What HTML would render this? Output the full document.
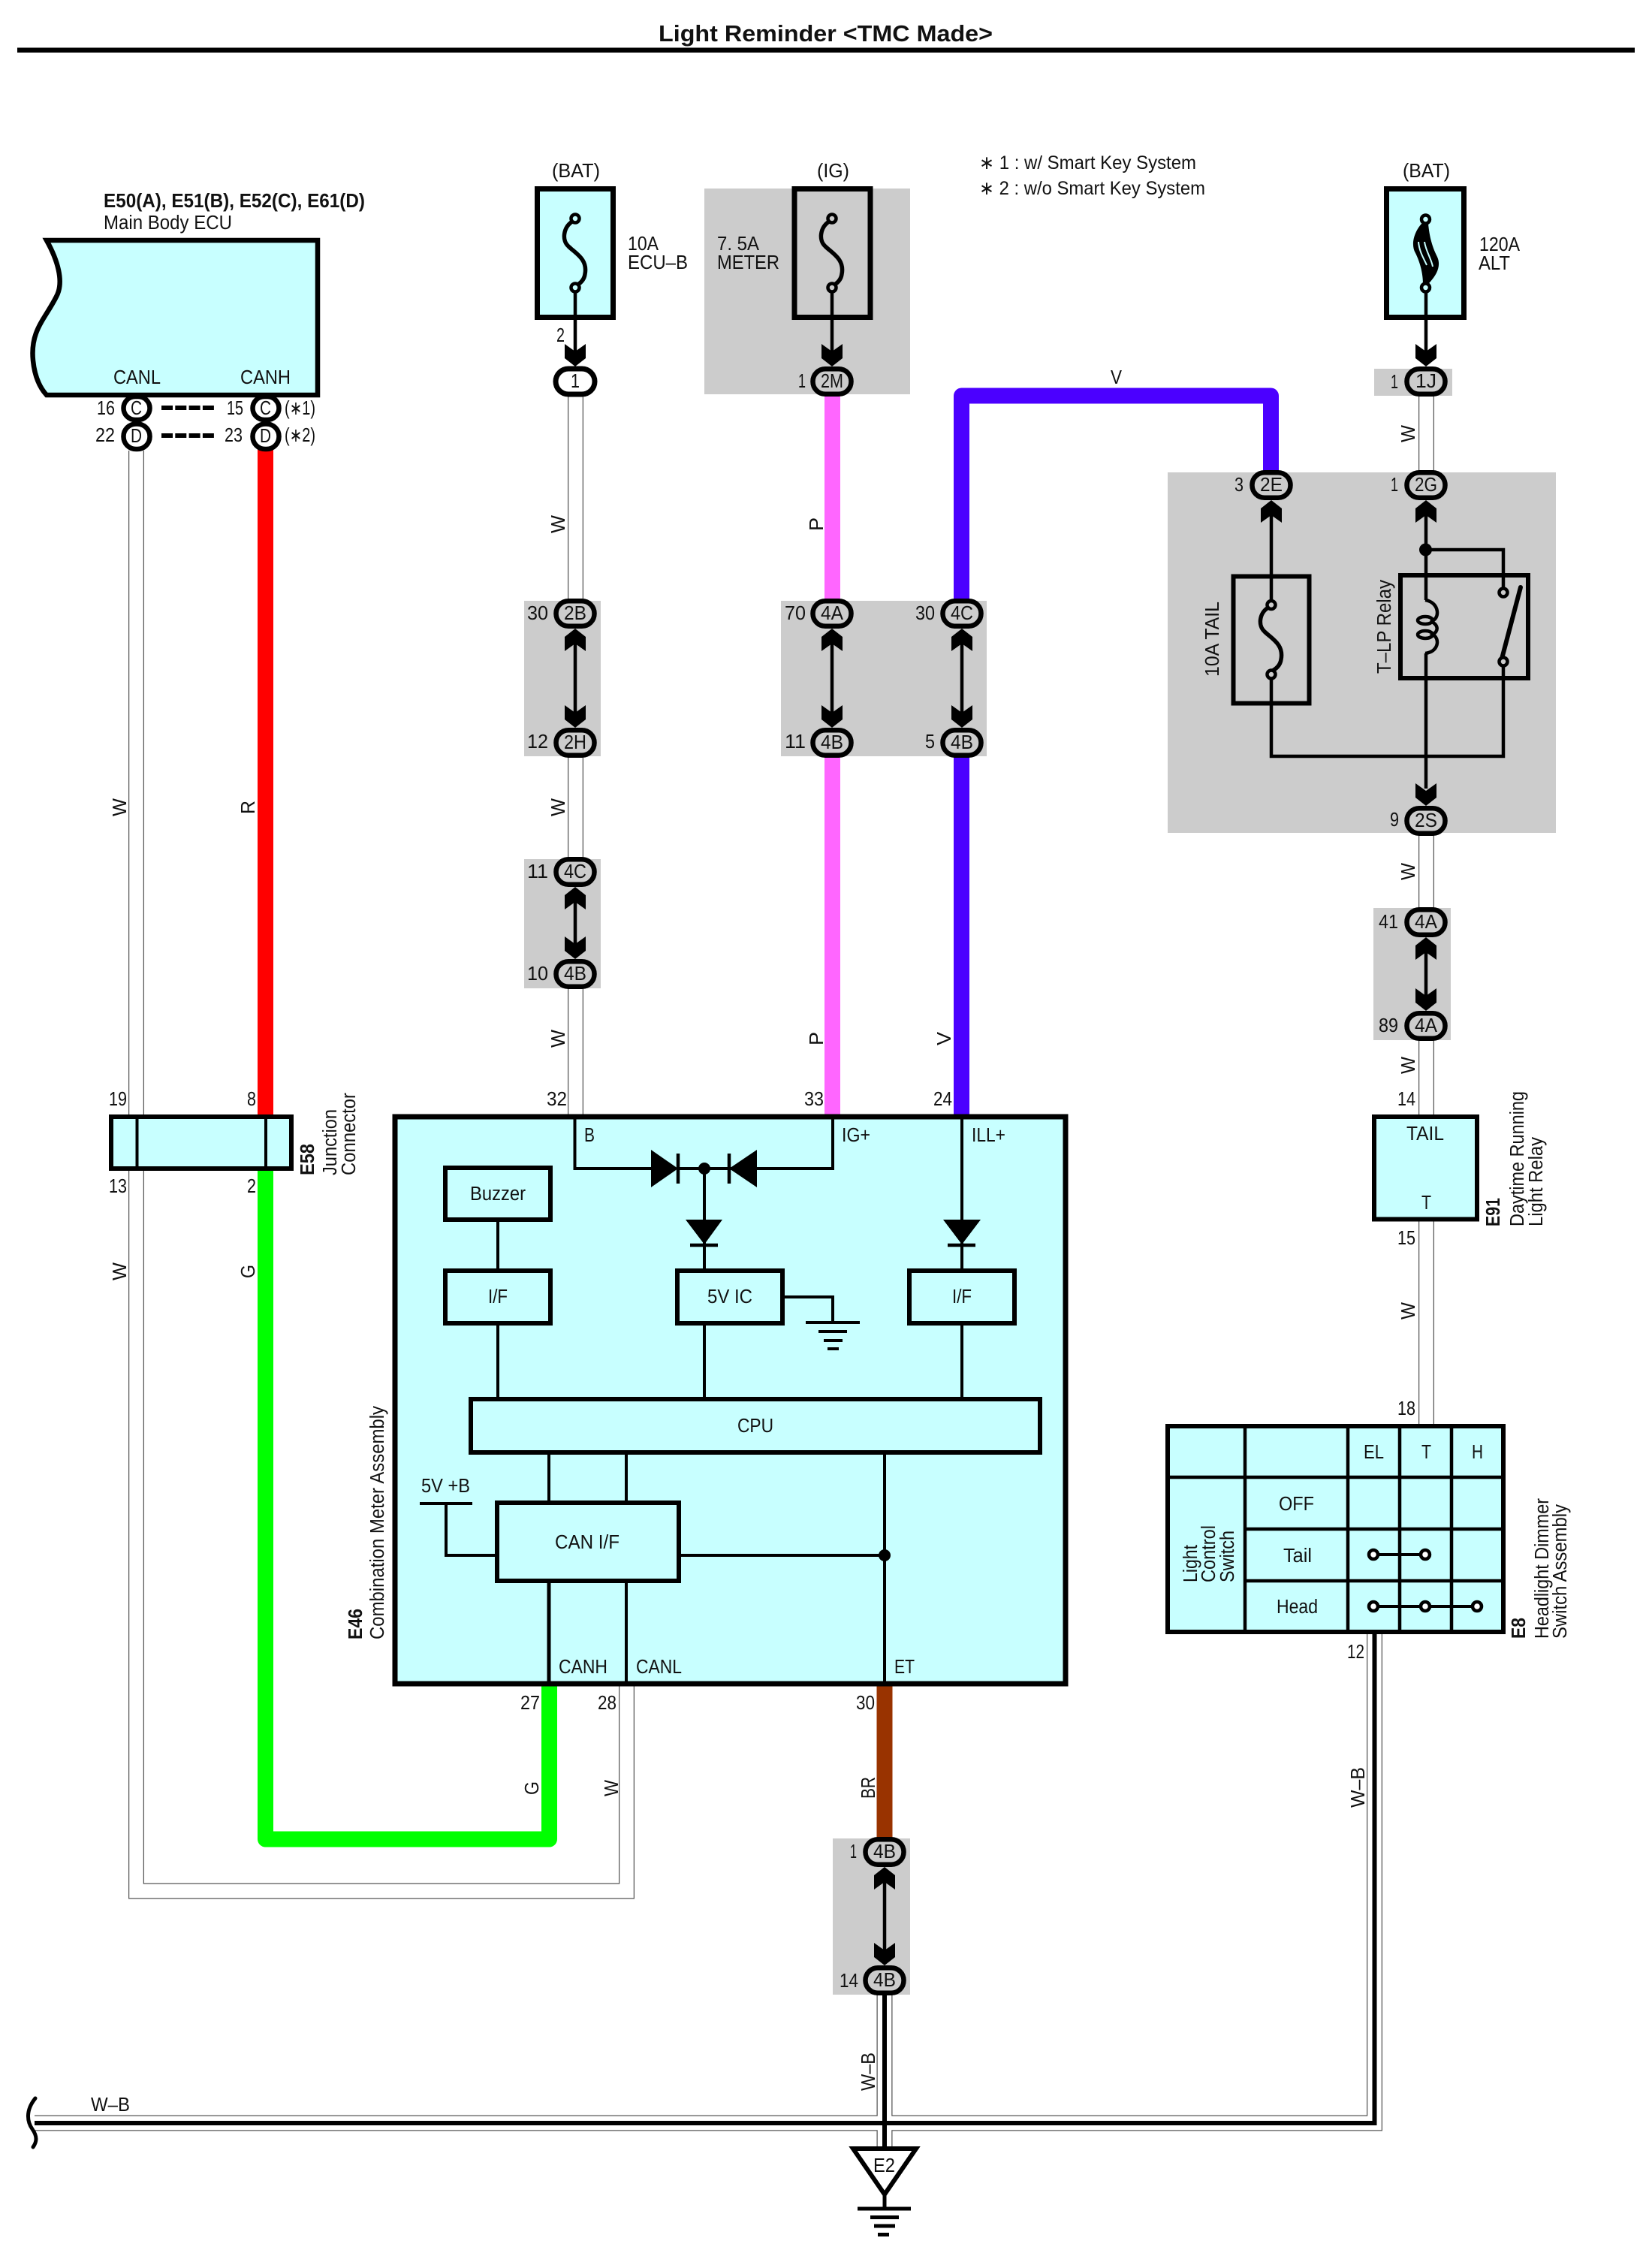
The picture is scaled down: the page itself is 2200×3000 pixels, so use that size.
<!DOCTYPE html>
<html><head><meta charset="utf-8"><title>Light Reminder</title>
<style>
html,body{margin:0;padding:0;background:#fff}
svg{display:block}
text{font-family:"Liberation Sans",sans-serif;font-size:25.5px;fill:#111}
.b{font-weight:bold}
.s{font-size:25px}
</style></head><body>
<svg xmlns="http://www.w3.org/2000/svg" width="2200" height="3000" viewBox="0 0 2200 3000">
<defs>
<rect id="pw" x="-26" y="-17" width="52" height="34" rx="17" fill="#fff" stroke="#000" stroke-width="7"/>
<rect id="pg" x="-25.5" y="-16.75" width="51" height="33.5" rx="16.5" fill="#ccc" stroke="#000" stroke-width="6.5"/>
<polygon id="cd" points="-14,-30 0,-20 14,-30 14,-11 0,0 -14,-11" fill="#000"/>
<polygon id="cu" points="-14,30 0,20 14,30 14,11 0,0 -14,11" fill="#000"/>
</defs>
<rect width="2200" height="3000" fill="#fff"/>

<!-- Grey regions -->
<g fill="#ccc">
<rect x="938" y="251" width="274" height="274"/>
<rect x="698" y="800" width="102" height="207"/>
<rect x="698" y="1144" width="102" height="172"/>
<rect x="1040" y="800" width="274" height="207"/>
<rect x="1830" y="491" width="104" height="36"/>
<rect x="1555" y="629" width="517" height="480"/>
<rect x="1829" y="1209" width="103" height="176"/>
<rect x="1109" y="2448" width="103" height="208"/>
</g>

<!-- Title -->
<rect x="23" y="63.5" width="2154" height="6.5" fill="#000"/>
<text class="b" x="877" y="55" style="font-size:31px" textLength="445" lengthAdjust="spacingAndGlyphs">Light Reminder &lt;TMC Made&gt;</text>

<!-- White double wires -->
<g fill="none" stroke="#555" stroke-width="21" stroke-linejoin="miter">
<path d="M181.5 600V2518H834.5V2242"/>
<path d="M766.5 525V800M766.5 1006V1144M766.5 1316V1487"/>
<path d="M1899.5 527V629M1899.5 1109V1209M1899.5 1385V1487M1899.5 1624V1899"/>
<path d="M46 2827H1830.5V2174"/>
<path d="M1178 2656V2860"/>
</g>
<g fill="none" stroke="#fff" stroke-width="18.5">
<path d="M181.5 600V2518H834.5V2242"/>
<path d="M766.5 525V800M766.5 1006V1144M766.5 1316V1487"/>
<path d="M1899.5 527V629M1899.5 1109V1209M1899.5 1385V1487M1899.5 1624V1899"/>
<path d="M46 2827H1830.5V2174"/>
<path d="M1178 2656V2860"/>
</g>
<g fill="none" stroke="#000" stroke-width="6">
<path d="M46 2827H1830.5V2174"/>
<path d="M1178 2656V2860"/>
</g>
<path d="M47 2794C34 2810 36 2825 43 2835C50 2845 49 2852 44 2859" fill="none" stroke="#000" stroke-width="5" stroke-linecap="round"/>

<!-- Coloured wires -->
<g fill="none" stroke-width="21" stroke-linejoin="round">
<path d="M353.5 598V1487" stroke="#f00"/>
<path d="M353.5 1556V2449H731.5V2242" stroke="#0f0"/>
<path d="M1108.5 526V800M1108.5 1006V1487" stroke="#f6f"/>
<path d="M1280.5 1006V1487M1280.5 800V527H1692.5V632" stroke="#4b00ff"/>
<path d="M1178 2242V2450" stroke="#930"/>
</g>

<!-- ECU -->
<path d="M62 320H423V526H62C52 515 46 500 44 480C40 440 60 425 75 395C86 375 76 345 62 320Z" fill="#c8ffff" stroke="#000" stroke-width="6.5" stroke-linejoin="miter"/>
<text class="b" x="138" y="276" textLength="348" lengthAdjust="spacingAndGlyphs">E50(A), E51(B), E52(C), E61(D)</text>
<text x="138" y="305" textLength="171" lengthAdjust="spacingAndGlyphs">Main Body ECU</text>
<text x="151" y="511" textLength="63" lengthAdjust="spacingAndGlyphs">CANL</text>
<text x="320" y="511" textLength="67" lengthAdjust="spacingAndGlyphs">CANH</text>
<g fill="#fff" stroke="#000" stroke-width="6.5">
<rect x="164.5" y="528" width="35" height="31" rx="15.5"/>
<rect x="164.5" y="564.5" width="35" height="33.5" rx="16.5"/>
<rect x="336.5" y="528" width="35" height="31" rx="15.5"/>
<rect x="336.5" y="564.5" width="35" height="33.5" rx="16.5"/>
</g>
<path d="M215 543H285M215 580H285" fill="none" stroke="#000" stroke-width="6" stroke-dasharray="15 3.3"/>
<text x="129" y="552" textLength="24" lengthAdjust="spacingAndGlyphs">16</text>
<text x="127" y="588" textLength="26" lengthAdjust="spacingAndGlyphs">22</text>
<text x="302" y="552" textLength="22" lengthAdjust="spacingAndGlyphs">15</text>
<text x="299" y="588" textLength="24" lengthAdjust="spacingAndGlyphs">23</text>
<text x="174" y="552" textLength="15" lengthAdjust="spacingAndGlyphs">C</text>
<text x="174" y="589" textLength="15" lengthAdjust="spacingAndGlyphs">D</text>
<text x="346" y="552" textLength="15" lengthAdjust="spacingAndGlyphs">C</text>
<text x="346" y="589" textLength="15" lengthAdjust="spacingAndGlyphs">D</text>
<text x="379" y="552" textLength="41" lengthAdjust="spacingAndGlyphs">(∗1)</text>
<text x="379" y="588" textLength="41" lengthAdjust="spacingAndGlyphs">(∗2)</text>

<!-- Fuses top -->
<rect x="715.5" y="251.5" width="101" height="171" fill="#c8ffff" stroke="#000" stroke-width="7"/>
<rect x="1058" y="251.5" width="101" height="171" fill="none" stroke="#000" stroke-width="7"/>
<rect x="1846.5" y="251.5" width="103" height="171" fill="#c8ffff" stroke="#000" stroke-width="7"/>
<g fill="none" stroke="#000" stroke-width="5.5">
<path d="M762 295C750 303 748 320 757 328C766 337 783 345 779 365C778 373 772 378 766 381"/>
<path d="M1104 295C1092 303 1090 320 1099 328C1108 337 1125 345 1121 365C1120 373 1114 378 1108 381"/>
</g>
<path d="M1893 298C1884 308 1878 325 1885 337C1890 347 1895 362 1895 378L1902 378C1912 368 1920 355 1914 342C1908 330 1904 318 1902 298Z" fill="#000"/>
<path d="M1889 322C1890 335 1896 344 1900 353M1897 322C1899 335 1906 344 1908 355" fill="none" stroke="#c8ffff" stroke-width="2"/>
<g fill="#c8ffff" stroke="#000" stroke-width="4.5">
<circle cx="766" cy="291" r="5.5"/><circle cx="766" cy="383" r="5.5"/>
<circle cx="1898.5" cy="292" r="5.5"/><circle cx="1898.5" cy="383" r="5.5"/>
</g>
<g fill="#ccc" stroke="#000" stroke-width="4.5">
<circle cx="1108" cy="291" r="5.5"/><circle cx="1108" cy="383" r="5.5"/>
</g>
<path d="M766 389V480M1108 389V480M1899 389V480" fill="none" stroke="#000" stroke-width="4.5"/>
<use href="#cd" x="766" y="488"/><use href="#cd" x="1108" y="488"/><use href="#cd" x="1899" y="488"/>
<text x="735" y="236" textLength="64" lengthAdjust="spacingAndGlyphs">(BAT)</text>
<text x="1088" y="236" textLength="43" lengthAdjust="spacingAndGlyphs">(IG)</text>
<text x="1868" y="236" textLength="63" lengthAdjust="spacingAndGlyphs">(BAT)</text>
<text x="836" y="333" textLength="41" lengthAdjust="spacingAndGlyphs">10A</text>
<text x="836" y="358" textLength="80" lengthAdjust="spacingAndGlyphs">ECU–B</text>
<text x="955" y="333" textLength="56" lengthAdjust="spacingAndGlyphs">7. 5A</text>
<text x="955" y="358" textLength="83" lengthAdjust="spacingAndGlyphs">METER</text>
<text x="1970" y="334" textLength="54" lengthAdjust="spacingAndGlyphs">120A</text>
<text x="1969" y="359" textLength="42" lengthAdjust="spacingAndGlyphs">ALT</text>
<text class="s" x="1304" y="225" textLength="289" lengthAdjust="spacingAndGlyphs">∗ 1 : w/ Smart Key System</text>
<text class="s" x="1304" y="259" textLength="301" lengthAdjust="spacingAndGlyphs">∗ 2 : w/o Smart Key System</text>
<text x="741" y="455" textLength="11" lengthAdjust="spacingAndGlyphs">2</text>

<!-- Arrow links between pills -->
<path d="M766 845V960M766 1190V1270M1108 845V960M1281 845V960M1899 1255V1340M1178 2497V2607" fill="none" stroke="#000" stroke-width="4.5"/>
<use href="#cu" x="766" y="837"/><use href="#cd" x="766" y="969"/>
<use href="#cu" x="766" y="1181"/><use href="#cd" x="766" y="1277"/>
<use href="#cu" x="1108" y="837"/><use href="#cd" x="1108" y="969"/>
<use href="#cu" x="1281" y="837"/><use href="#cd" x="1281" y="969"/>
<use href="#cu" x="1899" y="1248"/><use href="#cd" x="1899" y="1346"/>
<use href="#cu" x="1178" y="2486"/><use href="#cd" x="1178" y="2617"/>

<!-- Relay area -->
<rect x="1642.5" y="767.5" width="101" height="169" fill="none" stroke="#000" stroke-width="6"/>
<rect x="1865" y="766" width="170" height="137" fill="none" stroke="#000" stroke-width="6"/>
<g fill="none" stroke="#000" stroke-width="4.5">
<path d="M1693 680V800M1693 904V1007H2002V885M1899 680V799M1899 870V1050M1899 732H2002V783"/>
<path d="M1689 809C1677 816 1675 833 1684 841C1693 850 1710 858 1706 878C1705 886 1699 891 1693 894" stroke-width="5.5"/>
<path d="M1898 799C1918 802 1918 826 1905 827C1916 832 1916 840 1908 845C1918 850 1916 868 1898 870"/>
<ellipse cx="1898" cy="826" rx="10" ry="5"/>
<ellipse cx="1898" cy="845" rx="10" ry="5"/>
<path d="M2000 877L2025 782" stroke-width="6" stroke-linecap="round"/>
</g>
<g fill="#ccc" stroke="#000" stroke-width="4.5">
<circle cx="1693" cy="805.5" r="5.5"/><circle cx="1693" cy="898" r="5.5"/>
<circle cx="2002" cy="789" r="5.5"/><circle cx="2002" cy="881" r="5.5"/>
</g>
<circle cx="1898.5" cy="732" r="8.5" fill="#000"/>
<use href="#cu" x="1693" y="666"/><use href="#cu" x="1899" y="666"/><use href="#cd" x="1899" y="1073"/>
<text transform="rotate(-90 1623 901)" x="1623" y="901" textLength="100" lengthAdjust="spacingAndGlyphs">10A TAIL</text>
<text transform="rotate(-90 1852 897)" x="1852" y="897" textLength="125" lengthAdjust="spacingAndGlyphs">T–LP Relay</text>

<!-- Pills -->
<use href="#pw" x="766" y="508"/>
<use href="#pg" x="1108" y="508"/><use href="#pg" x="1899" y="508"/>
<use href="#pg" x="1693" y="646"/><use href="#pg" x="1899" y="646"/>
<use href="#pg" x="766" y="817"/><use href="#pg" x="766" y="989"/>
<use href="#pg" x="766" y="1161"/><use href="#pg" x="766" y="1297"/>
<use href="#pg" x="1108" y="817"/><use href="#pg" x="1108" y="989"/>
<use href="#pg" x="1281" y="817"/><use href="#pg" x="1281" y="989"/>
<use href="#pg" x="1899" y="1093"/>
<use href="#pg" x="1899" y="1228"/><use href="#pg" x="1899" y="1366"/>
<use href="#pg" x="1178" y="2466"/><use href="#pg" x="1178" y="2637"/>
<text x="760" y="516" textLength="12" lengthAdjust="spacingAndGlyphs">1</text>
<text x="1093" y="516" textLength="30" lengthAdjust="spacingAndGlyphs">2M</text>
<text x="1885" y="516" textLength="28" lengthAdjust="spacingAndGlyphs">1J</text>
<text x="1678" y="654" textLength="30" lengthAdjust="spacingAndGlyphs">2E</text>
<text x="1884" y="654" textLength="30" lengthAdjust="spacingAndGlyphs">2G</text>
<text x="751" y="825" textLength="30" lengthAdjust="spacingAndGlyphs">2B</text>
<text x="751" y="997" textLength="30" lengthAdjust="spacingAndGlyphs">2H</text>
<text x="751" y="1169" textLength="30" lengthAdjust="spacingAndGlyphs">4C</text>
<text x="751" y="1305" textLength="30" lengthAdjust="spacingAndGlyphs">4B</text>
<text x="1093" y="825" textLength="30" lengthAdjust="spacingAndGlyphs">4A</text>
<text x="1093" y="997" textLength="30" lengthAdjust="spacingAndGlyphs">4B</text>
<text x="1266" y="825" textLength="30" lengthAdjust="spacingAndGlyphs">4C</text>
<text x="1266" y="997" textLength="30" lengthAdjust="spacingAndGlyphs">4B</text>
<text x="1884" y="1101" textLength="30" lengthAdjust="spacingAndGlyphs">2S</text>
<text x="1884" y="1236" textLength="30" lengthAdjust="spacingAndGlyphs">4A</text>
<text x="1884" y="1374" textLength="30" lengthAdjust="spacingAndGlyphs">4A</text>
<text x="1163" y="2474" textLength="30" lengthAdjust="spacingAndGlyphs">4B</text>
<text x="1163" y="2645" textLength="30" lengthAdjust="spacingAndGlyphs">4B</text>
<!-- pin numbers -->
<text x="702" y="825" textLength="28" lengthAdjust="spacingAndGlyphs">30</text>
<text x="702" y="996" textLength="28" lengthAdjust="spacingAndGlyphs">12</text>
<text x="702" y="1169" textLength="28" lengthAdjust="spacingAndGlyphs">11</text>
<text x="702" y="1305" textLength="28" lengthAdjust="spacingAndGlyphs">10</text>
<text x="1045" y="825" textLength="28" lengthAdjust="spacingAndGlyphs">70</text>
<text x="1045" y="996" textLength="28" lengthAdjust="spacingAndGlyphs">11</text>
<text x="1219" y="825" textLength="26" lengthAdjust="spacingAndGlyphs">30</text>
<text x="1232" y="996" textLength="13" lengthAdjust="spacingAndGlyphs">5</text>
<text x="1063" y="516" textLength="10" lengthAdjust="spacingAndGlyphs">1</text>
<text x="1644" y="654" textLength="12" lengthAdjust="spacingAndGlyphs">3</text>
<text x="1852" y="654" textLength="10" lengthAdjust="spacingAndGlyphs">1</text>
<text x="1852" y="517" textLength="10" lengthAdjust="spacingAndGlyphs">1</text>
<text x="1851" y="1100" textLength="12" lengthAdjust="spacingAndGlyphs">9</text>
<text x="1836" y="1236" textLength="26" lengthAdjust="spacingAndGlyphs">41</text>
<text x="1836" y="1374" textLength="26" lengthAdjust="spacingAndGlyphs">89</text>

<!-- Wire labels -->
<text x="1479" y="511" textLength="15" lengthAdjust="spacingAndGlyphs">V</text>
<text transform="rotate(-90 752 710)" x="752" y="710" textLength="24" lengthAdjust="spacingAndGlyphs">W</text>
<text transform="rotate(-90 752 1087)" x="752" y="1087" textLength="24" lengthAdjust="spacingAndGlyphs">W</text>
<text transform="rotate(-90 752 1395)" x="752" y="1395" textLength="24" lengthAdjust="spacingAndGlyphs">W</text>
<text transform="rotate(-90 1096 707)" x="1096" y="707" textLength="18" lengthAdjust="spacingAndGlyphs">P</text>
<text transform="rotate(-90 1096 1392)" x="1096" y="1392" textLength="18" lengthAdjust="spacingAndGlyphs">P</text>
<text transform="rotate(-90 1266 1392)" x="1266" y="1392" textLength="18" lengthAdjust="spacingAndGlyphs">V</text>
<text transform="rotate(-90 1884 589)" x="1884" y="589" textLength="23" lengthAdjust="spacingAndGlyphs">W</text>
<text transform="rotate(-90 1884 1172)" x="1884" y="1172" textLength="23" lengthAdjust="spacingAndGlyphs">W</text>
<text transform="rotate(-90 1884 1430)" x="1884" y="1430" textLength="23" lengthAdjust="spacingAndGlyphs">W</text>
<text transform="rotate(-90 1884 1757)" x="1884" y="1757" textLength="23" lengthAdjust="spacingAndGlyphs">W</text>
<text transform="rotate(-90 168 1087)" x="168" y="1087" textLength="24" lengthAdjust="spacingAndGlyphs">W</text>
<text transform="rotate(-90 168 1705)" x="168" y="1705" textLength="24" lengthAdjust="spacingAndGlyphs">W</text>
<text transform="rotate(-90 339 1084)" x="339" y="1084" textLength="18" lengthAdjust="spacingAndGlyphs">R</text>
<text transform="rotate(-90 339 1702)" x="339" y="1702" textLength="18" lengthAdjust="spacingAndGlyphs">G</text>
<text transform="rotate(-90 717 2390)" x="717" y="2390" textLength="18" lengthAdjust="spacingAndGlyphs">G</text>
<text transform="rotate(-90 823 2392)" x="823" y="2392" textLength="22" lengthAdjust="spacingAndGlyphs">W</text>
<text transform="rotate(-90 1165 2395)" x="1165" y="2395" textLength="29" lengthAdjust="spacingAndGlyphs">BR</text>
<text transform="rotate(-90 1165 2784)" x="1165" y="2784" textLength="51" lengthAdjust="spacingAndGlyphs">W–B</text>
<text transform="rotate(-90 1817 2407)" x="1817" y="2407" textLength="54" lengthAdjust="spacingAndGlyphs">W–B</text>
<text x="121" y="2811" textLength="52" lengthAdjust="spacingAndGlyphs">W–B</text>

<!-- E58 -->
<rect x="148" y="1487" width="240" height="69" fill="#c8ffff" stroke="#000" stroke-width="6"/>
<path d="M182.5 1487V1556M354 1487V1556" stroke="#000" stroke-width="4" fill="none"/>
<text x="145" y="1472" textLength="24" lengthAdjust="spacingAndGlyphs">19</text>
<text x="329" y="1472" textLength="12" lengthAdjust="spacingAndGlyphs">8</text>
<text x="145" y="1588" textLength="24" lengthAdjust="spacingAndGlyphs">13</text>
<text x="329" y="1588" textLength="12" lengthAdjust="spacingAndGlyphs">2</text>
<text class="b" transform="rotate(-90 418 1565)" x="418" y="1565" textLength="42" lengthAdjust="spacingAndGlyphs">E58</text>
<text transform="rotate(-90 448 1565)" x="448" y="1565" textLength="88" lengthAdjust="spacingAndGlyphs">Junction</text>
<text transform="rotate(-90 473 1565)" x="473" y="1565" textLength="110" lengthAdjust="spacingAndGlyphs">Connector</text>

<!-- Combination meter -->
<rect x="526" y="1487" width="893" height="755" fill="#c8ffff" stroke="#000" stroke-width="7"/>
<g fill="none" stroke="#000" stroke-width="4">
<path d="M765.5 1487V1556H867M971 1556H1109V1487M903 1556H971M938 1556V1692M1281 1487V1692"/>
<path d="M663 1624V1692M663 1762V1863M938 1762V1863M1281 1762V1863"/>
<path d="M834 1934V2001M834 2105V2242M1178 1934V2242M904 2071H1178M594 2002V2071H662M1042 1727H1109V1761"/>
<path d="M731 1934V2001" stroke-width="4"/>
<path d="M731 2105V2242" stroke-width="5"/>
<path d="M559 2002H629M1073 1761H1145M1090 1773H1128M1097 1785H1122M1102 1796H1117" />
<path d="M903 1536V1576M971 1536V1576M919 1658H956M1262 1658H1299" stroke-width="4.5"/>
</g>
<g fill="#000">
<polygon points="867,1531 867,1581 903,1556"/>
<polygon points="1008,1531 1008,1581 971,1556"/>
<polygon points="913,1624 962,1624 938,1657"/>
<polygon points="1256,1624 1306,1624 1281,1657"/>
<circle cx="938" cy="1556" r="8"/>
<circle cx="1178" cy="2071" r="8"/>
</g>
<g fill="#c8ffff" stroke="#000" stroke-width="6">
<rect x="593" y="1555" width="140" height="69"/>
<rect x="593" y="1692" width="140" height="70"/>
<rect x="902" y="1692" width="140" height="70"/>
<rect x="1211" y="1692" width="140" height="70"/>
<rect x="627" y="1863" width="758" height="71"/>
<rect x="662" y="2001" width="242" height="104"/>
</g>
<text x="778" y="1520" textLength="14" lengthAdjust="spacingAndGlyphs">B</text>
<text x="1121" y="1520" textLength="38" lengthAdjust="spacingAndGlyphs">IG+</text>
<text x="1294" y="1520" textLength="45" lengthAdjust="spacingAndGlyphs">ILL+</text>
<text x="626" y="1598" textLength="74" lengthAdjust="spacingAndGlyphs">Buzzer</text>
<text x="650" y="1735" textLength="26" lengthAdjust="spacingAndGlyphs">I/F</text>
<text x="942" y="1735" textLength="60" lengthAdjust="spacingAndGlyphs">5V IC</text>
<text x="1268" y="1735" textLength="26" lengthAdjust="spacingAndGlyphs">I/F</text>
<text x="982" y="1907" textLength="48" lengthAdjust="spacingAndGlyphs">CPU</text>
<text x="561" y="1987" textLength="65" lengthAdjust="spacingAndGlyphs">5V +B</text>
<text x="739" y="2062" textLength="86" lengthAdjust="spacingAndGlyphs">CAN I/F</text>
<text x="744" y="2228" textLength="65" lengthAdjust="spacingAndGlyphs">CANH</text>
<text x="847" y="2228" textLength="61" lengthAdjust="spacingAndGlyphs">CANL</text>
<text x="1191" y="2228" textLength="27" lengthAdjust="spacingAndGlyphs">ET</text>
<text x="728" y="1472" textLength="27" lengthAdjust="spacingAndGlyphs">32</text>
<text x="1071" y="1472" textLength="26" lengthAdjust="spacingAndGlyphs">33</text>
<text x="1243" y="1472" textLength="25" lengthAdjust="spacingAndGlyphs">24</text>
<text x="693" y="2276" textLength="26" lengthAdjust="spacingAndGlyphs">27</text>
<text x="796" y="2276" textLength="25" lengthAdjust="spacingAndGlyphs">28</text>
<text x="1140" y="2276" textLength="25" lengthAdjust="spacingAndGlyphs">30</text>
<text x="1132" y="2474" textLength="9" lengthAdjust="spacingAndGlyphs">1</text>
<text x="1118" y="2646" textLength="25" lengthAdjust="spacingAndGlyphs">14</text>
<text class="b" transform="rotate(-90 482 2183)" x="482" y="2183" textLength="41" lengthAdjust="spacingAndGlyphs">E46</text>
<text transform="rotate(-90 511 2183)" x="511" y="2183" textLength="311" lengthAdjust="spacingAndGlyphs">Combination Meter Assembly</text>

<!-- E91 -->
<rect x="1830" y="1487" width="137" height="136.5" fill="#c8ffff" stroke="#000" stroke-width="6"/>
<text x="1873" y="1518" textLength="50" lengthAdjust="spacingAndGlyphs">TAIL</text>
<text x="1893" y="1610" textLength="13" lengthAdjust="spacingAndGlyphs">T</text>
<text x="1861" y="1472" textLength="24" lengthAdjust="spacingAndGlyphs">14</text>
<text x="1861" y="1657" textLength="24" lengthAdjust="spacingAndGlyphs">15</text>
<text x="1861" y="1884" textLength="24" lengthAdjust="spacingAndGlyphs">18</text>
<text class="b" transform="rotate(-90 1997 1633)" x="1997" y="1633" textLength="38" lengthAdjust="spacingAndGlyphs">E91</text>
<text transform="rotate(-90 2029 1633)" x="2029" y="1633" textLength="180" lengthAdjust="spacingAndGlyphs">Daytime Running</text>
<text transform="rotate(-90 2054 1633)" x="2054" y="1633" textLength="119" lengthAdjust="spacingAndGlyphs">Light Relay</text>

<!-- E8 -->
<rect x="1555" y="1899" width="447" height="274" fill="#c8ffff" stroke="#000" stroke-width="6"/>
<g fill="none" stroke="#000" stroke-width="4.5">
<path d="M1658 1899V2173M1795 1899V2173M1864 1899V2173M1933 1899V2173"/>
<path d="M1555 1967H2002M1658 2036H2002M1658 2105H2002"/>
<path d="M1829 2070H1898M1829 2139H1967" stroke-width="4"/>
</g>
<g fill="#fff" stroke="#000" stroke-width="4.5">
<circle cx="1829" cy="2070" r="6"/><circle cx="1898" cy="2070" r="6"/>
<circle cx="1829" cy="2139" r="6"/><circle cx="1898" cy="2139" r="6"/><circle cx="1967" cy="2139" r="6"/>
</g>
<text x="1816" y="1942" textLength="27" lengthAdjust="spacingAndGlyphs">EL</text>
<text x="1893" y="1942" textLength="13" lengthAdjust="spacingAndGlyphs">T</text>
<text x="1960" y="1942" textLength="15" lengthAdjust="spacingAndGlyphs">H</text>
<text x="1703" y="2011" textLength="47" lengthAdjust="spacingAndGlyphs">OFF</text>
<text x="1709" y="2080" textLength="38" lengthAdjust="spacingAndGlyphs">Tail</text>
<text x="1700" y="2148" textLength="55" lengthAdjust="spacingAndGlyphs">Head</text>
<text transform="rotate(-90 1594 2107)" x="1594" y="2107" textLength="50" lengthAdjust="spacingAndGlyphs">Light</text>
<text transform="rotate(-90 1618 2107)" x="1618" y="2107" textLength="76" lengthAdjust="spacingAndGlyphs">Control</text>
<text transform="rotate(-90 1643 2107)" x="1643" y="2107" textLength="69" lengthAdjust="spacingAndGlyphs">Switch</text>
<text x="1794" y="2208" textLength="23" lengthAdjust="spacingAndGlyphs">12</text>
<text class="b" transform="rotate(-90 2031 2182)" x="2031" y="2182" textLength="28" lengthAdjust="spacingAndGlyphs">E8</text>
<text transform="rotate(-90 2062 2182)" x="2062" y="2182" textLength="187" lengthAdjust="spacingAndGlyphs">Headlight Dimmer</text>
<text transform="rotate(-90 2086 2182)" x="2086" y="2182" textLength="179" lengthAdjust="spacingAndGlyphs">Switch Assembly</text>

<!-- Ground E2 -->
<polygon points="1136,2861 1220,2861 1178,2922" fill="#fff" stroke="#000" stroke-width="6" stroke-linejoin="miter"/>
<text x="1163" y="2892" textLength="29" lengthAdjust="spacingAndGlyphs">E2</text>
<path d="M1178 2922V2941M1142 2941H1213M1159 2952.5H1197M1164 2964H1192M1169 2975.5H1184" fill="none" stroke="#000" stroke-width="5"/>
</svg>
</body></html>
